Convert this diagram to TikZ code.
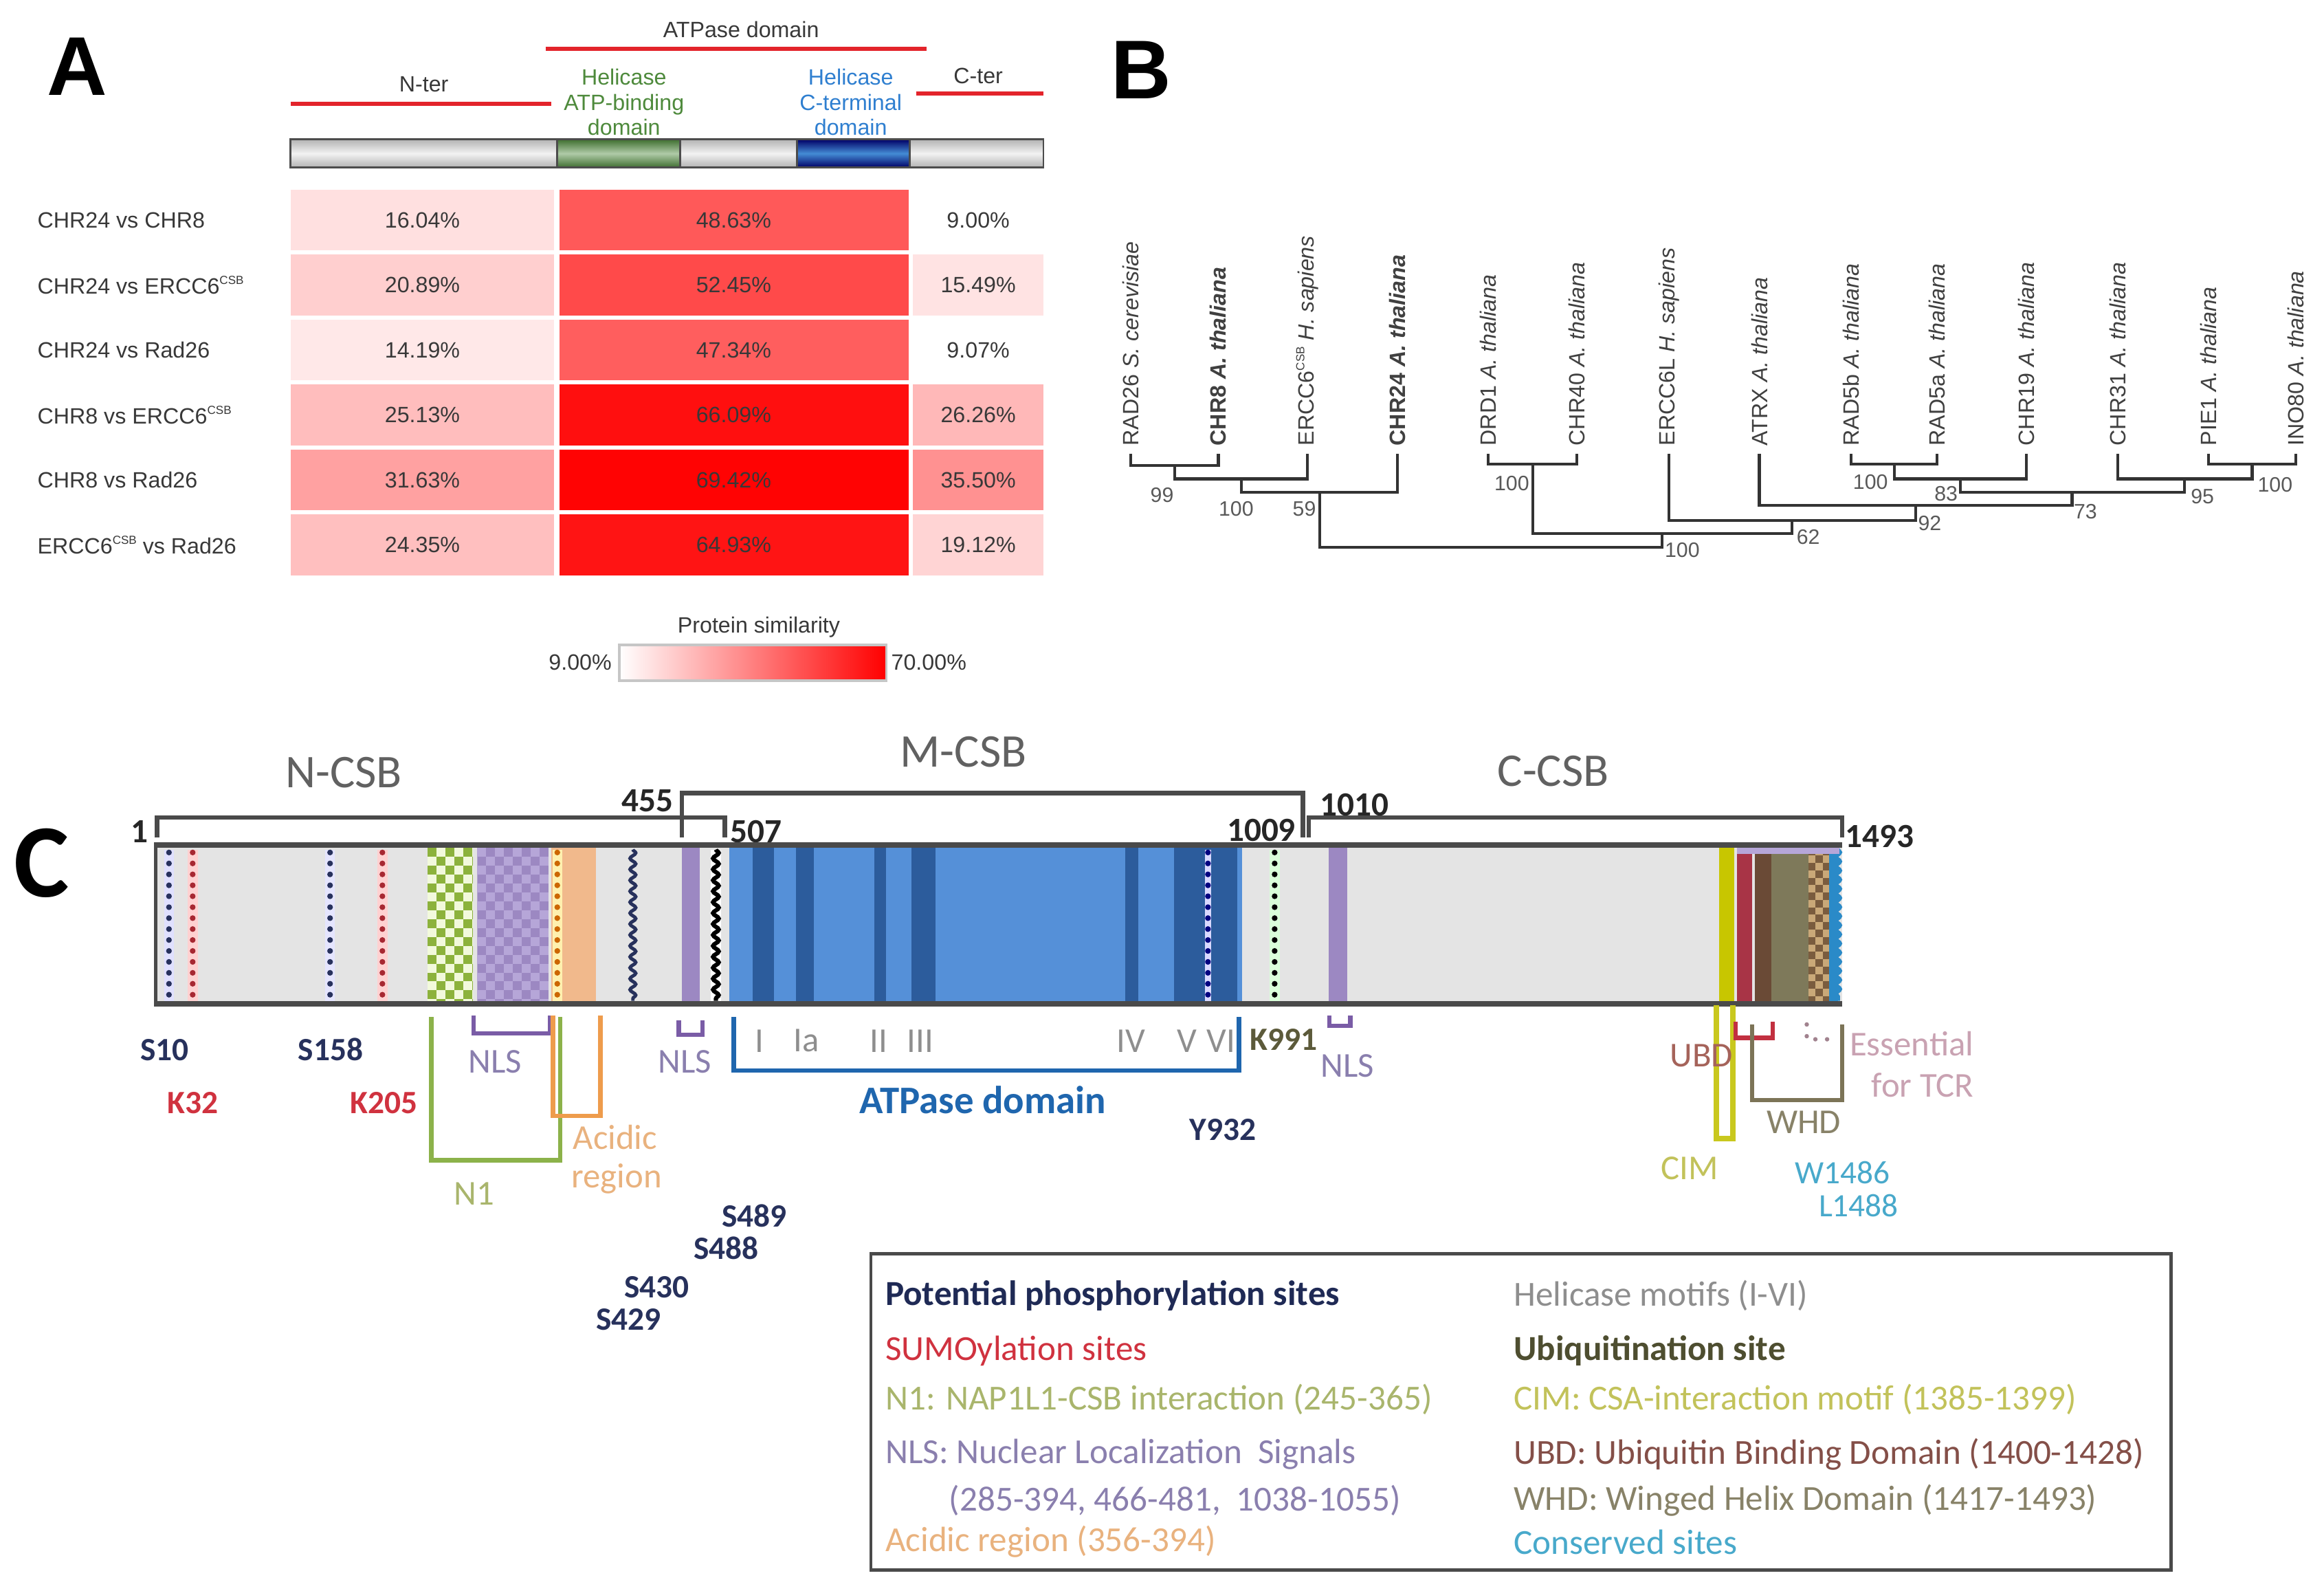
\documentclass[tikz,border=0pt]{standalone}
\usepackage{fontspec}
\setmainfont{Liberation Sans}
\newfontfamily\calib{Carlito}
\usetikzlibrary{decorations.pathmorphing}

\definecolor{redl}{HTML}{E3242B}
\definecolor{hgreen}{HTML}{4E8A3C}
\definecolor{hblue}{HTML}{2F7FD0}
\definecolor{navyC}{HTML}{27315C}
\definecolor{sumoC}{HTML}{D0323F}
\definecolor{nlsT}{HTML}{8A7FAE}
\definecolor{nlsB}{HTML}{7A5CA6}
\definecolor{nT}{HTML}{A9B56C}
\definecolor{nB}{HTML}{8CB24A}
\definecolor{acT}{HTML}{E9B27E}
\definecolor{acB}{HTML}{EE9C4C}
\definecolor{atpB}{HTML}{1F66AE}
\definecolor{motifC}{HTML}{8E8E8E}
\definecolor{kC}{HTML}{5C5A3A}
\definecolor{ubdT}{HTML}{A5635A}
\definecolor{ubdB}{HTML}{C23040}
\definecolor{cimB}{HTML}{C9C81E}
\definecolor{cimT}{HTML}{C2C25A}
\definecolor{whdB}{HTML}{7C7457}
\definecolor{whdT}{HTML}{888268}
\definecolor{tcrT}{HTML}{C9A2B2}
\definecolor{consT}{HTML}{48A9CB}
\definecolor{barfill}{HTML}{E4E4E4}
\definecolor{bord}{HTML}{4A4A4A}
\definecolor{blueM}{HTML}{5590D8}
\definecolor{blueD}{HTML}{2C5C9C}
\definecolor{purpC}{HTML}{9C88C2}
\definecolor{purpL}{HTML}{B6A6D8}
\definecolor{salmonC}{HTML}{F1B98C}
\definecolor{ckG}{HTML}{8CB23C}
\definecolor{ckGL}{HTML}{F2F9DC}
\definecolor{yelC}{HTML}{C8C600}
\definecolor{crimC}{HTML}{A83446}
\definecolor{dbrownC}{HTML}{6A4A36}
\definecolor{oliveC}{HTML}{7E795A}
\definecolor{tanC}{HTML}{C9A878}
\definecolor{ckBr}{HTML}{7A5C3E}
\definecolor{wblue}{HTML}{2A8AC8}
\definecolor{legN}{HTML}{1F2A55}
\definecolor{ubiqC}{HTML}{4E4E30}

\tikzset{
  fa/.style={font=\fontsize{8.5}{10}\selectfont, text=black!78, inner sep=0pt},
  rowlab/.style={fa, anchor=west},
  val/.style={fa},
  redline/.style={redl, line width=1.7pt},
  leaf/.style={font=\fontsize{8.5}{10}\selectfont, text=black!75, rotate=90, anchor=west, inner sep=0pt},
  tree/.style={draw=black!80, line width=1.1pt},
  boot/.style={font=\fontsize{8}{9}\selectfont, text=black!65, inner sep=0pt},
  cbig/.style={font=\calib\fontsize{18}{20}\selectfont, text=black!62},
  cnum/.style={font=\calib\bfseries\fontsize{13}{14}\selectfont, text=black!85, inner sep=0pt},
  clab/.style={font=\calib\fontsize{13.4}{15}\selectfont, inner sep=0pt},
  csml/.style={font=\calib\fontsize{12.5}{14}\selectfont, inner sep=0pt},
  cbold/.style={font=\calib\bfseries\fontsize{12.5}{14}\selectfont, inner sep=0pt},
  leg/.style={font=\calib\fontsize{13.5}{15}\selectfont, anchor=west, inner sep=0pt},
  brk/.style={line width=1.7pt},
  dotl/.style={line width=2.2pt, line cap=round, dash pattern=on 0pt off 4.2pt},
  bigl/.style={font=\fontsize{32}{32}\selectfont\bfseries, inner sep=0pt}
}

\newcommand\hmrow[8]{%
  \pgfmathsetmacro\ytop{128+43.8*#1}%
  \fill[red!#4!white] (196,\ytop) rectangle (374,{\ytop+41});
  \fill[red!#6!white] (377.5,\ytop) rectangle (613,{\ytop+41});
  \fill[red!#8!white] (616,\ytop) rectangle (704,{\ytop+41});
  \node[rowlab] (rl#1) at (25,{\ytop+20.5}) {#2};
  \node[val] (va#1) at (285,{\ytop+20.5}) {#3\%};
  \node[val] (vb#1) at (495,{\ytop+20.5}) {#5\%};
  \node[val] (vc#1) at (660,{\ytop+20.5}) {#7\%};
}
\newcommand\csbsup{\raisebox{0.8ex}{\fontsize{4.5}{5}\selectfont CSB}}

\begin{document}
\begin{tikzpicture}[x=0.02cm,y=-0.02cm]
\useasboundingbox (0,0) rectangle (1568,1073);
\fill[white] (0,0) rectangle (1568,1073);

% ================= PANEL A =================
\node[bigl] (lblA) at (52,45) {A};
\node[fa] (hATP) at (500,20) {ATPase domain};
\draw[redline] (368,33) -- (625,33);
\node[fa] (hN) at (286,57) {N-ter};
\draw[redline] (196,70) -- (372,70);
\node[fa] (hC) at (660,51) {C-ter};
\draw[redline] (618,63) -- (704,63);
\node[fa, text=hgreen, align=center, font=\fontsize{8.5}{9.6}\selectfont] (hHA) at (421,69) {Helicase\\ATP-binding\\domain};
\node[fa, text=hblue, align=center, font=\fontsize{8.5}{9.6}\selectfont] (hHC) at (574,69) {Helicase\\C-terminal\\domain};

% domain bar
\shade[top color=gray!60, bottom color=gray!60, middle color=gray!10] (196,94) rectangle (704,113);
\shade[top color=hgreen!80!black, bottom color=hgreen!80!black, middle color=hgreen!45!white] (376,94) rectangle (459,113);
\shade[top color=blue!40!black, bottom color=blue!40!black, middle color=hblue!90!white] (537.6,94) rectangle (613.8,113);
\draw[black!70, line width=0.7pt] (196,94) rectangle (704,113);
\draw[black!70, line width=0.7pt] (376,94) -- (376,113) (459,94) -- (459,113) (537.6,94) -- (537.6,113) (613.8,94) -- (613.8,113);

% heat map
\hmrow{0}{CHR24 vs CHR8}{16.04}{12}{48.63}{65}{9.00}{0}
\hmrow{1}{CHR24 vs ERCC6\csbsup}{20.89}{19}{52.45}{71}{15.49}{11}
\hmrow{2}{CHR24 vs Rad26}{14.19}{9}{47.34}{63}{9.07}{0}
\hmrow{3}{CHR8 vs ERCC6\csbsup}{25.13}{26}{66.09}{94}{26.26}{28}
\hmrow{4}{CHR8 vs Rad26}{31.63}{37}{69.42}{99}{35.50}{43}
\hmrow{5}{ERCC6\csbsup{} vs Rad26}{24.35}{25}{64.93}{92}{19.12}{17}

% legend A
\node[fa] (psim) at (512,423) {Protein similarity};
\shade[left color=white, right color=red] (418,435) rectangle (598,459);
\draw[gray!45, line width=1pt] (418,435) rectangle (598,459);
\node[fa, anchor=east] (v9) at (413,447) {9.00\%};
\node[fa, anchor=west] (v70) at (601,447) {70.00\%};

% ================= PANEL B =================
\node[bigl] (lblB) at (770,47) {B};
\foreach \n/\x in {1/763,2/822,3/882,4/943,5/1004,6/1064,7/1126,8/1187,9/1249,10/1307,11/1367,12/1429,13/1490,14/1549}
  \coordinate (l\n) at (\x,306);
\node[leaf] (t1) at (763,301) {RAD26 \textit{S. cerevisiae}};
\node[leaf] (t2) at (822,301) {\bfseries CHR8 \textit{A. thaliana}};
\node[leaf] (t3) at (882,301) {ERCC6\csbsup{} \textit{H. sapiens}};
\node[leaf] (t4) at (943,301) {\bfseries CHR24 \textit{A. thaliana}};
\node[leaf] (t5) at (1004,301) {DRD1 \textit{A. thaliana}};
\node[leaf] (t6) at (1064,301) {CHR40 \textit{A. thaliana}};
\node[leaf] (t7) at (1126,301) {ERCC6L \textit{H. sapiens}};
\node[leaf] (t8) at (1187,301) {ATRX \textit{A. thaliana}};
\node[leaf] (t9) at (1249,301) {RAD5b \textit{A. thaliana}};
\node[leaf] (t10) at (1307,301) {RAD5a \textit{A. thaliana}};
\node[leaf] (t11) at (1367,301) {CHR19 \textit{A. thaliana}};
\node[leaf] (t12) at (1429,301) {CHR31 \textit{A. thaliana}};
\node[leaf] (t13) at (1490,301) {PIE1 \textit{A. thaliana}};
\node[leaf] (t14) at (1549,301) {INO80 \textit{A. thaliana}};

\coordinate (j1) at (792.5,314);
\coordinate (j2) at (837.5,323);
\coordinate (j3) at (890.5,332);
\coordinate (j4) at (1034,313);
\coordinate (j5) at (1278,313);
\coordinate (j6) at (1519.5,313);
\coordinate (j7) at (1322.5,323);
\coordinate (j8) at (1474,323);
\coordinate (j9) at (1398,332);
\coordinate (j10) at (1292.5,341);
\coordinate (j11) at (1209,351);
\coordinate (j12) at (1121.5,360);
\coordinate (j13) at (1006,369);
\draw[tree] (l1) |- (j1) -| (l2);
\draw[tree] (j1) |- (j2) -| (l3);
\draw[tree] (j2) |- (j3) -| (l4);
\draw[tree] (l5) |- (j4) -| (l6);
\draw[tree] (l9) |- (j5) -| (l10);
\draw[tree] (l13) |- (j6) -| (l14);
\draw[tree] (j5) |- (j7) -| (l11);
\draw[tree] (l12) |- (j8) -| (j6);
\draw[tree] (j7) |- (j9) -| (j8);
\draw[tree] (l8) |- (j10) -| (j9);
\draw[tree] (l7) |- (j11) -| (j10);
\draw[tree] (j4) |- (j12) -| (j11);
\draw[tree] (j3) |- (j13) -| (j12);

\node[boot] (b1) at (784,334) {99};
\node[boot] (b2) at (834,343) {100};
\node[boot] (b3) at (880,343) {59};
\node[boot] (b4) at (1020,326) {100};
\node[boot] (b5) at (1135,371) {100};
\node[boot] (b6) at (1220,362) {62};
\node[boot] (b7) at (1302,353) {92};
\node[boot] (b8) at (1262,325) {100};
\node[boot] (b9) at (1313,333) {83};
\node[boot] (b10) at (1486,335) {95};
\node[boot] (b11) at (1407,345) {73};
\node[boot] (b12) at (1535,327) {100};

% ================= PANEL C =================
\node[font=\calib\bfseries\fontsize{40}{40}\selectfont, inner sep=0pt] (lblC) at (28,582) {C};
\node[cbig] (ncsb) at (232,521) {N-CSB};
\node[cbig] (mcsb) at (650,507) {M-CSB};
\node[cbig] (ccsb) at (1048,520) {C-CSB};

% brackets above
\draw[bord, line width=1.7pt] (106,565) -- (106,551.5) -- (489,551.5) -- (489,565);
\draw[bord, line width=1.7pt] (460,565) -- (460,535) -- (879,535) -- (879,565);
\draw[bord, line width=1.7pt] (883,565) -- (883,551.5) -- (1243,551.5) -- (1243,565);
\node[cnum] (n1) at (94,561) {1};
\node[cnum] (n455) at (437,540) {455};
\node[cnum] (n507) at (510,561) {507};
\node[cnum] (n1009) at (851,560) {1009};
\node[cnum] (n1010) at (914,543) {1010};
\node[cnum] (n1493) at (1268,564) {1493};

% bar
\fill[barfill] (105,570) rectangle (1243,677);
% dotted sites
\draw[blue!12, line width=3.8pt] (114,573) -- (114,675);
\draw[navyC, dotl] (114,575) -- (114,675);
\draw[red!18, line width=3.8pt] (130,573) -- (130,675);
\draw[sumoC!80!black, dotl] (130,575) -- (130,675);
\draw[blue!10, line width=3.8pt] (222.7,573) -- (222.7,675);
\draw[navyC, dotl] (222.7,575) -- (222.7,675);
\draw[red!18, line width=3.8pt] (258,573) -- (258,675);
\draw[sumoC!80!black, dotl] (258,575) -- (258,675);
% green checker
\begin{scope}
\clip (288.5,572) rectangle (319,676);
\fill[ckGL] (288.5,572) rectangle (319,676);
\foreach \i in {0,...,5}{\foreach \j in {0,...,17}{%
  \ifodd\numexpr\i+\j\relax\else\fill[ckG] ({288.5+6*\i},{572+6*\j}) rectangle ++(6,6);\fi}}
\end{scope}
% purple checker
\begin{scope}
\clip (322,572) rectangle (370,676);
\fill[purpC] (322,572) rectangle (370,676);
\foreach \i in {0,...,8}{\foreach \j in {0,...,17}{%
  \ifodd\numexpr\i+\j\relax\else\fill[purpL] ({322+6*\i},{572+6*\j}) rectangle ++(6,6);\fi}}
\end{scope}
% acidic
\fill[salmonC] (372,572) rectangle (402,676);
\draw[yellow!70!orange!30!white, line width=3.8pt] (376,573) -- (376,675);
\draw[orange!80!black, dotl] (376,575) -- (376,675);
% wavy sites
\draw[navyC, line width=1.3pt, decorate, decoration={snake, segment length=4.2pt, amplitude=1.1pt}] (427,573) -- (427,675);
\fill[purpC] (460,572) rectangle (472,676);
\draw[white, line width=4pt] (483,573) -- (483,675);
\draw[black, line width=1.6pt, decorate, decoration={snake, segment length=4.2pt, amplitude=1.1pt}] (483,573) -- (483,675);
% ATPase region
\fill[blueM] (492,572) rectangle (838,676);
\foreach \a/\b in {508/522,537/549,590/598,615/631,759/768,792/835}
  \fill[blueD] (\a,572) rectangle (\b,676);
\draw[blue!15, line width=2.5pt] (815,573) -- (815,675);
\draw[blue!50!black, dotl] (815,575) -- (815,675);
\draw[green!15, line width=3.8pt] (860,573) -- (860,675);
\draw[black, dotl] (860,575) -- (860,675);
\fill[purpC] (896.5,572) rectangle (909,676);
% C-terminal region
\fill[yelC] (1160,572) rectangle (1170,676);
\fill[crimC] (1172,572) rectangle (1182,676);
\fill[dbrownC] (1184,572) rectangle (1195,676);
\fill[oliveC] (1195,572) rectangle (1220,676);
\begin{scope}
\clip (1220,572) rectangle (1234,676);
\fill[tanC] (1220,572) rectangle (1234,676);
\foreach \i in {0,...,3}{\foreach \j in {0,...,21}{%
  \ifodd\numexpr\i+\j\relax\else\fill[ckBr] ({1220+5*\i},{572+5*\j}) rectangle ++(5,5);\fi}}
\end{scope}
\fill[wblue] (1234,572) rectangle (1240,676);
\draw[wblue, line width=1.6pt, decorate, decoration={snake, segment length=3.5pt, amplitude=0.8pt}] (1240,573) -- (1240,675);
\fill[purpL] (1172,572) rectangle (1241,576);
% bar border
\draw[bord, line width=2.2pt] (104,570) -- (1243,570);
\draw[bord, line width=2.2pt] (104,677) -- (1243,677);
\draw[bord, line width=1.3pt] (105,570) -- (105,677);

% brackets below
\draw[nB, brk] (291,686) -- (291,782.5) -- (378,782.5) -- (378,686);
\draw[nlsB, brk] (319.5,685) -- (319.5,697) -- (371,697) -- (371,685);
\draw[acB, brk] (373,685) -- (373,752.7) -- (405,752.7) -- (405,685);
\draw[nlsB, brk] (458,688) -- (458,698) -- (474,698) -- (474,688);
\draw[atpB, brk] (495,686) -- (495,722) -- (836,722) -- (836,686);
\draw[nlsB, brk] (897,685) -- (897,692) -- (911,692) -- (911,685);
\draw[cimB, line width=2.2pt] (1158,678) -- (1158,768) -- (1169,768) -- (1169,678);
\draw[ubdB, brk] (1171,689) -- (1171,700) -- (1196,700) -- (1196,689);
\draw[whdB, brk] (1182,691) -- (1182,742) -- (1243,742) -- (1243,691);
\draw[tcrT!80!black, line width=1.7pt, line cap=round, dash pattern=on 0pt off 4.5pt] (1219,691) -- (1219,701) -- (1240,701);

% labels below
\node[cbold, text=navyC] (s10) at (111,708) {S10};
\node[cbold, text=sumoC] (k32) at (130,744) {K32};
\node[cbold, text=navyC] (s158) at (223,708) {S158};
\node[cbold, text=sumoC] (k205) at (259,744) {K205};
\node[clab, text=nlsT] (nls1) at (334,716) {NLS};
\node[clab, text=nT] (n1lab) at (320,805) {N1};
\node[clab, text=acT] (acid1) at (415,767) {Acidic};
\node[clab, text=acT] (acid2) at (416,795) {region};
\node[clab, text=nlsT] (nls2) at (462,716) {NLS};
\node[clab, text=motifC] (m1) at (512.5,702) {I};
\node[clab, text=motifC] (m2) at (544,702) {Ia};
\node[clab, text=motifC] (m3) at (593,702) {II};
\node[clab, text=motifC] (m4) at (621,702) {III};
\node[clab, text=motifC] (m5) at (763,702) {IV};
\node[clab, text=motifC] (m6) at (801,702) {V};
\node[clab, text=motifC] (m7) at (824,702) {VI};
\node[font=\calib\bfseries\fontsize{15}{16}\selectfont, text=atpB, inner sep=0pt] (atpl) at (663,742) {ATPase domain};
\node[cbold, text=navyC] (y932) at (825,762) {Y932};
\node[cbold, text=kC] (k991) at (866,701) {K991};
\node[clab, text=nlsT] (nls3) at (909,719) {NLS};
\node[clab, text=ubdT] (ubd) at (1148,712) {UBD};
\node[clab, text=cimT] (cim) at (1140,788) {CIM};
\node[clab, text=whdT] (whd) at (1217,757) {WHD};
\node[clab, text=tcrT, anchor=east] (ess) at (1332,704) {Essential};
\node[clab, text=tcrT, anchor=east] (ftcr) at (1332,732) {for TCR};
\node[csml, text=consT] (w1486) at (1243,791) {W1486};
\node[csml, text=consT] (l1488) at (1254,813) {L1488};
\node[cbold, text=navyC] (s489) at (509,820) {S489};
\node[cbold, text=navyC] (s488) at (490,842) {S488};
\node[cbold, text=navyC] (s430) at (443,868) {S430};
\node[cbold, text=navyC] (s429) at (424,890) {S429};

% legend box
\draw[bord, line width=1.3pt] (587.6,845.7) rectangle (1464.8,1058.9);
\node[leg, text=legN, font=\calib\bfseries\fontsize{13.5}{15}\selectfont] (g1) at (597,874) {Potential phosphorylation sites};
\node[leg, text=sumoC] (g2) at (597,911) {SUMOylation sites};
\node[leg, text=nT] (g3) at (597,944) {N1: NAP1L1-CSB interaction (245-365)};
\node[leg, text=nlsT] (g4) at (597,981) {NLS: Nuclear Localization \ Signals};
\node[leg, text=nlsT] (g5) at (640,1012) {(285-394, 466-481, \ 1038-1055)};
\node[leg, text=acT] (g6) at (597,1040) {Acidic region (356-394)};
\node[leg, text=motifC] (g7) at (1021,874) {Helicase motifs (I-VI)};
\node[leg, text=ubiqC, font=\calib\bfseries\fontsize{13.5}{15}\selectfont] (g8) at (1021,911) {Ubiquitination site};
\node[leg, text=cimT] (g9) at (1021,944) {CIM: CSA-interaction motif (1385-1399)};
\node[leg, text=ubdT!80!black] (g10) at (1021,981) {UBD: Ubiquitin Binding Domain (1400-1428)};
\node[leg, text=whdT] (g11) at (1021,1012) {WHD: Winged Helix Domain (1417-1493)};
\node[leg, text=consT] (g12) at (1021,1040) {Conserved sites};
\end{tikzpicture}
\end{document}
